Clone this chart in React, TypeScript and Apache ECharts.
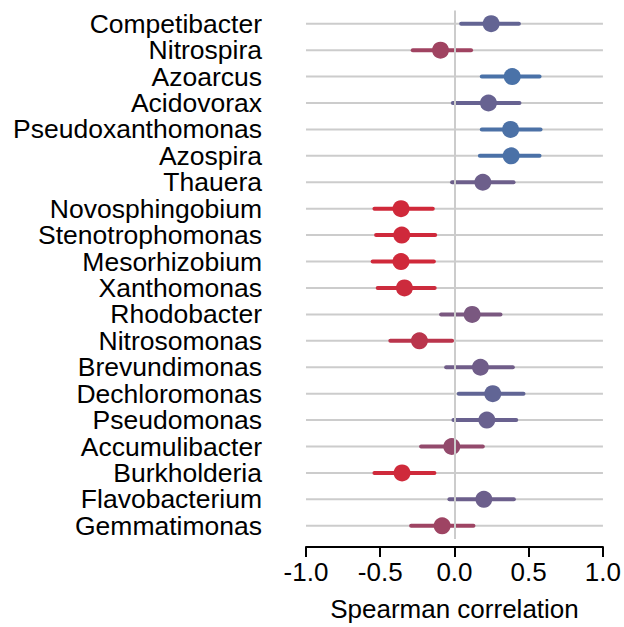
import React, { useEffect, useRef } from "react";
import * as echarts from "echarts";

const categories = [
  "Competibacter", "Nitrospira", "Azoarcus", "Acidovorax", "Pseudoxanthomonas",
  "Azospira", "Thauera", "Novosphingobium", "Stenotrophomonas", "Mesorhizobium",
  "Xanthomonas", "Rhodobacter", "Nitrosomonas", "Brevundimonas", "Dechloromonas",
  "Pseudomonas", "Accumulibacter", "Burkholderia", "Flavobacterium", "Gemmatimonas",
];
const estimates = [
  0.247, -0.094, 0.389, 0.229, 0.378, 0.382, 0.191, -0.36, -0.355, -0.36,
  -0.337, 0.119, -0.236, 0.175, 0.258, 0.218, -0.018, -0.353, 0.198, -0.083,
];
const lower = [
  0.045, -0.281, 0.184, -0.011, 0.184, 0.171, -0.016, -0.539, -0.528, -0.551,
  -0.517, -0.09, -0.432, -0.056, 0.029, -0.007, -0.225, -0.539, -0.034, -0.292,
];
const upper = [
  0.434, 0.112, 0.573, 0.438, 0.58, 0.573, 0.398, -0.146, -0.13, -0.139,
  -0.133, 0.31, -0.016, 0.393, 0.465, 0.416, 0.191, -0.135, 0.4, 0.128,
];
const xTicks = { min: -1, max: 1, interval: 0.5 };

export default function App() {
  const ref = useRef<HTMLDivElement>(null);
  useEffect(() => {
    if (!ref.current) return;
    const chart = echarts.init(ref.current, null, { renderer: "svg" });
    const font = "'Liberation Sans', Arial, sans-serif";
    const mainData = categories.map((_, i) => [estimates[i], i, lower[i], upper[i]]);
    const bgData = categories.map((_, i) => [0, i]);
    chart.setOption({
      animation: false,
      grid: { left: 306, right: 21, top: 10.5, bottom: 87, containLabel: false },
      visualMap: {
        type: "continuous",
        show: false,
        seriesIndex: 1,
        dimension: 0,
        min: Math.min(...estimates),
        max: Math.max(...estimates),
        inRange: { color: ["#d0293a", "#4a72a8"] },
      },
      xAxis: {
        type: "value",
        min: xTicks.min,
        max: xTicks.max,
        interval: xTicks.interval,
        offset: 8,
        name: "Spearman correlation",
        nameLocation: "middle",
        nameGap: 49,
        nameTextStyle: { fontSize: 26, color: "#000", fontFamily: font },
        axisLine: { show: true, lineStyle: { color: "#000", width: 2 } },
        axisTick: { show: true, length: 10, lineStyle: { color: "#000", width: 2 } },
        axisLabel: {
          fontSize: 26,
          color: "#000",
          fontFamily: font,
          margin: 12,
          formatter: (v: number) => v.toFixed(1),
        },
        splitLine: { show: false },
      },
      yAxis: {
        type: "category",
        data: categories,
        inverse: true,
        axisLine: { show: false },
        axisTick: { show: false },
        splitLine: { show: false },
        axisLabel: {
          fontSize: 26.5,
          lineHeight: 24,
          color: "#000",
          fontFamily: font,
          margin: 44,
          interval: 0,
          hideOverlap: false,
        },
      },
      series: [
        {
          type: "custom",
          z: 1,
          silent: true,
          data: bgData,
          encode: { x: 0, y: 1 },
          renderItem: (params: any, api: any) => {
            const i = api.value(1);
            const a = api.coord([xTicks.min, i]);
            const b = api.coord([xTicks.max, i]);
            return {
              type: "line",
              shape: { x1: a[0], y1: a[1], x2: b[0], y2: b[1] },
              style: { stroke: "#cccccc", lineWidth: 2 },
            };
          },
          markLine: {
            silent: true,
            symbol: "none",
            label: { show: false },
            lineStyle: { color: "#cccccc", width: 2, type: "solid" },
            data: [{ xAxis: 0 }],
          },
        },
        {
          type: "custom",
          z: 3,
          data: mainData,
          encode: { x: [0, 2, 3], y: 1 },
          renderItem: (params: any, api: any) => {
            const i = api.value(1);
            const c = api.coord([api.value(0), i]);
            const lo = api.coord([api.value(2), i]);
            const hi = api.coord([api.value(3), i]);
            const color = api.visual("color");
            return {
              type: "group",
              children: [
                {
                  type: "line",
                  shape: { x1: lo[0], y1: lo[1], x2: hi[0], y2: hi[1] },
                  style: { stroke: color, lineWidth: 4, lineCap: "round" },
                },
                {
                  type: "circle",
                  shape: { cx: c[0], cy: c[1], r: 8.5 },
                  style: { fill: color },
                },
              ],
            };
          },
        },
      ],
    });
    return () => chart.dispose();
  }, []);
  return <div ref={ref} style={{ width: 624, height: 627, position: "absolute", left: 0, top: 0 }} />;
}
